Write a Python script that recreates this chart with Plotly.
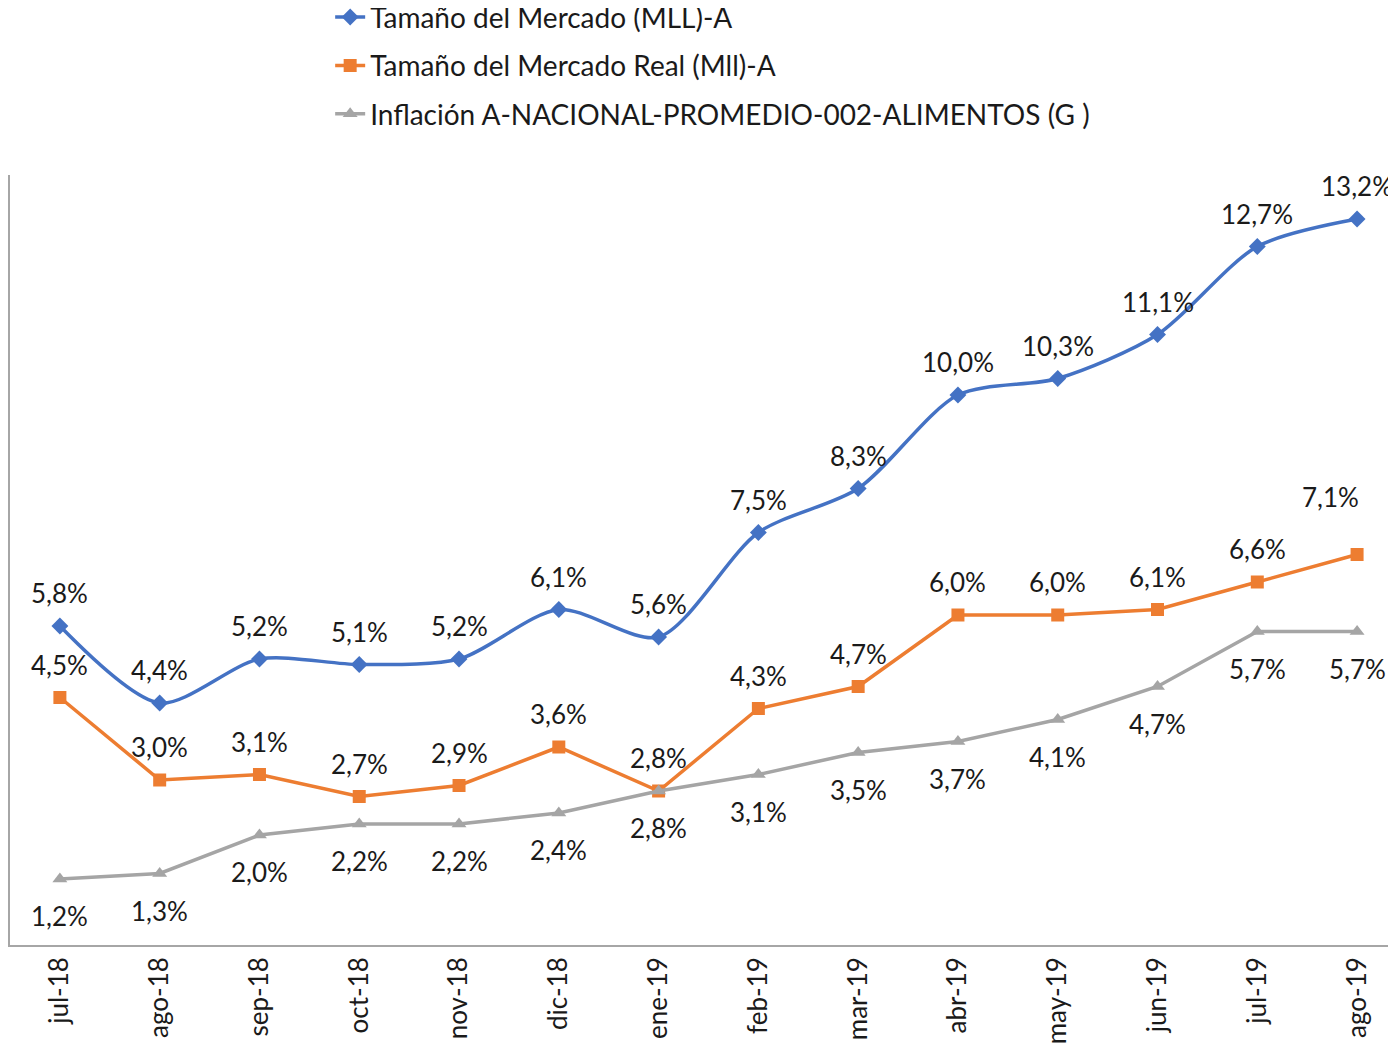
import plotly.graph_objects as go

months = ["jul-18", "ago-18", "sep-18", "oct-18", "nov-18", "dic-18", "ene-19",
          "feb-19", "mar-19", "abr-19", "may-19", "jun-19", "jul-19", "ago-19"]

mercado = [5.8, 4.4, 5.2, 5.1, 5.2, 6.1, 5.6, 7.5, 8.3, 10.0, 10.3, 11.1, 12.7, 13.2]
mercado_real = [4.5, 3.0, 3.1, 2.7, 2.9, 3.6, 2.8, 4.3, 4.7, 6.0, 6.0, 6.1, 6.6, 7.1]
inflacion = [1.2, 1.3, 2.0, 2.2, 2.2, 2.4, 2.8, 3.1, 3.5, 3.7, 4.1, 4.7, 5.7, 5.7]

FONT = "Lato"
BLUE = "#4472C4"
ORANGE = "#ED7D31"
GRAY = "#A5A5A5"
TXT = "#1a1a1a"


def pct(v):
    return f"{v:.1f}%".replace(".", ",")


fig = go.Figure()

fig.add_trace(go.Scatter(
    x=months, y=mercado, name="Tamaño del Mercado (MLL)-A",
    mode="lines+markers", legendgroup="a",
    line=dict(color=BLUE, width=3.5, shape="spline", smoothing=0.8),
    marker=dict(symbol="diamond", size=13, color=BLUE),
))

fig.add_trace(go.Scatter(
    x=months, y=mercado_real, name="Tamaño del Mercado Real (Mll)-A",
    mode="lines+markers", legendgroup="b",
    line=dict(color=ORANGE, width=3.5),
    marker=dict(symbol="square", size=13, color=ORANGE),
))

fig.add_trace(go.Scatter(
    x=months, y=inflacion, name="Inflación A-NACIONAL-PROMEDIO-002-ALIMENTOS (G )",
    mode="lines+markers", legendgroup="c",
    line=dict(color=GRAY, width=3.5),
    marker=dict(symbol="triangle-up", size=13, color=GRAY),
))

# data labels: blue and orange above the point, gray below
for i, m in enumerate(months):
    fig.add_annotation(x=m, y=mercado[i], text=pct(mercado[i]),
                       showarrow=False, yshift=33)
    last = i == len(months) - 1
    fig.add_annotation(x=m, y=mercado_real[i], text=pct(mercado_real[i]),
                       showarrow=False, yshift=58 if last else 33,
                       xshift=-27 if last else 0)
    fig.add_annotation(x=m, y=inflacion[i], text=pct(inflacion[i]),
                       showarrow=False, yshift=-37)

fig.update_annotations(font=dict(family=FONT, size=26, color=TXT))

fig.update_layout(
    width=1388, height=1051,
    margin=dict(l=2, r=0, t=167, b=114, autoexpand=False),
    paper_bgcolor="white", plot_bgcolor="white",
    font=dict(family=FONT, size=26, color=TXT),
    showlegend=True,
    legend=dict(
        x=0.231, y=1.2372, xanchor="left", yanchor="top",
        orientation="v", tracegroupgap=9,
        font=dict(family=FONT, size=28, color=TXT),
        bgcolor="rgba(0,0,0,0)",
    ),
)

fig.update_xaxes(
    range=[-0.5, 13.39], showgrid=False, showline=True,
    linecolor="#A6A6A6", linewidth=1.5, ticks="", tickangle=-90,
    tickfont=dict(family=FONT, size=26, color=TXT),
)
fig.update_yaxes(
    range=[0, 14], showgrid=False, showline=True, zeroline=False,
    linecolor="#A6A6A6", linewidth=1.5, showticklabels=False, ticks="",
)

fig.write_html("out.html")
